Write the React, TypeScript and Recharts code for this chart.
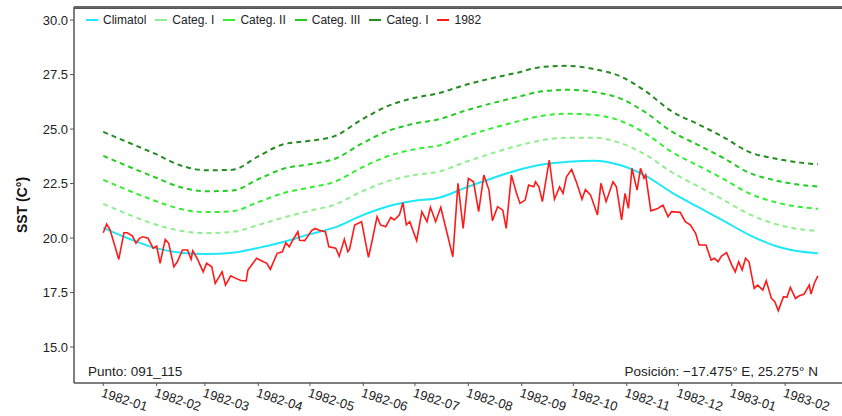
import { Line, LineChart, ReferenceLine, XAxis, YAxis } from "recharts";

if (typeof document !== "undefined") {
    document.body.style.margin = "0";
}

const FONT = "'Liberation Sans', Arial, Helvetica, sans-serif";

// month ticks, in days since 1982-01-01
const monthTicks = [0, 31, 59, 90, 120, 151, 181, 212, 243, 273, 304, 334, 365, 396];
const monthLabels = [
    "1982-01", "1982-02", "1982-03", "1982-04", "1982-05", "1982-06", "1982-07",
    "1982-08", "1982-09", "1982-10", "1982-11", "1982-12", "1983-01", "1983-02",
];
const yTicks = [15, 17.5, 20, 22.5, 25, 27.5, 30];

// climatology and category thresholds
const climDays = [0, 15, 30, 45, 60, 75, 90, 105, 120, 135, 150, 165, 180, 195, 210, 225, 240, 255, 270, 285, 300, 315, 330, 345, 360, 375, 390, 405, 415];
const climatol = [20.47, 19.97, 19.55, 19.33, 19.27, 19.33, 19.55, 19.83, 20.18, 20.5, 21.03, 21.45, 21.7, 21.85, 22.3, 22.72, 23.1, 23.37, 23.5, 23.55, 23.35, 22.85, 22.1, 21.44, 20.8, 20.15, 19.65, 19.38, 19.3];
const categI = [21.57, 21.07, 20.63, 20.33, 20.23, 20.28, 20.6, 20.95, 21.25, 21.55, 22.13, 22.6, 22.88, 23.05, 23.48, 23.87, 24.22, 24.49, 24.6, 24.6, 24.37, 23.82, 23.03, 22.39, 21.76, 21.1, 20.65, 20.4, 20.32];
const categII = [22.67, 22.17, 21.71, 21.33, 21.19, 21.23, 21.65, 22.07, 22.32, 22.6, 23.23, 23.75, 24.06, 24.25, 24.66, 25.02, 25.34, 25.61, 25.7, 25.65, 25.39, 24.79, 23.96, 23.34, 22.72, 22.05, 21.65, 21.42, 21.34];
const categIII = [23.77, 23.27, 22.79, 22.33, 22.15, 22.18, 22.7, 23.19, 23.39, 23.65, 24.33, 24.9, 25.24, 25.45, 25.84, 26.17, 26.46, 26.73, 26.8, 26.7, 26.41, 25.76, 24.89, 24.29, 23.68, 23.0, 22.65, 22.44, 22.36];
const categIV = [24.87, 24.37, 23.87, 23.33, 23.11, 23.13, 23.75, 24.31, 24.46, 24.7, 25.43, 26.05, 26.42, 26.65, 27.02, 27.32, 27.58, 27.85, 27.9, 27.75, 27.43, 26.73, 25.82, 25.24, 24.64, 23.95, 23.65, 23.46, 23.38];

// observed SST, 1982
const obsDays = [0, 2, 4, 9, 12, 14, 17, 19, 21, 23, 26, 29, 31, 33, 36, 38, 41, 43, 46, 49, 51, 52, 55, 58, 60, 63, 65, 69, 71, 74, 77, 80, 83, 84, 89, 93, 95, 97, 101, 104, 106, 108, 110, 113, 114, 117, 121, 123, 126, 129, 131, 135, 137, 140, 142, 143, 146, 150, 154, 156, 159, 161, 164, 167, 169, 172, 174, 176, 178, 182, 185, 188, 190, 193, 196, 199, 203, 206, 209, 212, 215, 218, 221, 224, 226, 229, 232, 234, 237, 240, 242, 245, 247, 250, 251, 253, 255, 259, 262, 265, 267, 269, 272, 275, 278, 280, 283, 287, 289, 292, 296, 298, 301, 303, 305, 307, 310, 312, 314, 315, 318, 322, 325, 328, 330, 335, 338, 341, 344, 346, 350, 353, 355, 357, 359, 362, 365, 367, 369, 371, 373, 375, 378, 380, 383, 385, 388, 390, 392, 395, 397, 399, 402, 404, 407, 410, 411, 413, 415];
const obs1982 = [20.24, 20.64, 20.37, 19.02, 20.24, 20.24, 20.09, 19.76, 19.99, 20.06, 19.99, 19.53, 19.63, 18.84, 19.94, 19.76, 18.68, 18.91, 19.45, 19.45, 19.02, 19.42, 18.99, 18.45, 18.84, 18.68, 17.92, 18.45, 17.84, 18.27, 18.15, 18.05, 18.03, 18.53, 19.07, 18.91, 18.84, 18.56, 19.3, 19.37, 19.78, 19.6, 19.9, 20.29, 19.9, 19.88, 20.34, 20.44, 20.34, 20.29, 19.6, 19.53, 19.17, 19.94, 19.37, 19.48, 20.6, 20.75, 19.11, 19.83, 20.98, 20.6, 20.52, 20.95, 20.83, 21.06, 21.62, 20.6, 20.75, 19.88, 21.21, 20.75, 21.41, 20.75, 21.41, 20.44, 19.14, 22.51, 20.44, 22.74, 22.58, 21.21, 22.89, 22.2, 20.79, 21.44, 21.28, 20.44, 22.89, 22.05, 21.59, 21.74, 22.43, 22.35, 22.58, 22.35, 21.67, 23.58, 21.78, 22.35, 22.05, 22.81, 23.15, 22.51, 21.78, 22.23, 21.97, 21.06, 22.51, 21.67, 22.58, 22.35, 20.83, 22.05, 21.36, 23.2, 22.2, 23.2, 22.74, 22.89, 21.25, 21.36, 21.51, 20.98, 21.21, 21.18, 20.75, 20.6, 20.22, 19.68, 19.68, 18.99, 19.07, 18.91, 19.17, 19.33, 18.76, 18.45, 18.91, 18.53, 19.07, 18.91, 17.69, 17.84, 17.61, 18.04, 17.23, 17.08, 16.67, 17.31, 17.28, 17.74, 17.23, 17.34, 17.43, 17.84, 17.43, 17.94, 18.26];

const climData = climDays.map((day, i) => ({
    day,
    clim: climatol[i],
    c1: categI[i],
    c2: categII[i],
    c3: categIII[i],
    c4: categIV[i],
}));
const obsData = obsDays.map((day, i) => ({ day, sst: obs1982[i] }));

const legendItems = [
    { label: "Climatol", color: "#1ee8f8" },
    { label: "Categ. I", color: "#90ee90" },
    { label: "Categ. II", color: "#33ee33" },
    { label: "Categ. III", color: "#22cc22" },
    { label: "Categ. I", color: "#228b22" },
    { label: "1982", color: "#ff1a1a" },
];

function MonthTick(props: any) {
    const { x, y, payload } = props;
    const idx = monthTicks.indexOf(payload.value);
    return (
        <g transform={`translate(${x},${y})`}>
            <text x={0} y={0} dy={9} transform="rotate(18)" textAnchor="start" fontSize={13} fill="#222" fontFamily={FONT}>
                {monthLabels[idx]}
            </text>
        </g>
    );
}

export default function App() {
    return (
        <div style={{ position: "relative", width: 842, height: 416, background: "#fff" }}>
            <LineChart width={842} height={416} margin={{ top: 7, right: 0, left: 0, bottom: 0 }}>
                <XAxis
                    type="number"
                    dataKey="day"
                    domain={[-17, 429]}
                    ticks={monthTicks}
                    tick={<MonthTick />}
                    tickSize={3}
                    height={33}
                    axisLine={{ stroke: "#555", strokeWidth: 1.5 }}
                    tickLine={{ stroke: "#555" }}
                    allowDataOverflow
                />
                <YAxis
                    type="number"
                    domain={[13.35, 30.6]}
                    ticks={yTicks}
                    width={74}
                    tickSize={4}
                    tickFormatter={(v: number) => v.toFixed(1)}
                    tick={{ fontSize: 13, fill: "#222", fontFamily: FONT }}
                    axisLine={{ stroke: "#555", strokeWidth: 1.5 }}
                    tickLine={{ stroke: "#555" }}
                    allowDataOverflow
                    label={{
                        value: "SST (C°)",
                        angle: -90,
                        position: "insideLeft",
                        offset: 22,
                        dy: 10,
                        style: { fontSize: 14, fontWeight: "bold", fill: "#111", fontFamily: FONT, textAnchor: "middle" },
                    }}
                />
                <ReferenceLine y={30.55} stroke="#555" strokeWidth={2} ifOverflow="visible" />
                <Line data={climData} dataKey="clim" type="monotone" stroke="#1ee8f8" strokeWidth={2} dot={false} isAnimationActive={false} />
                <Line data={climData} dataKey="c1" type="monotone" stroke="#90ee90" strokeWidth={2} strokeDasharray="5 4" dot={false} isAnimationActive={false} />
                <Line data={climData} dataKey="c2" type="monotone" stroke="#33ee33" strokeWidth={2} strokeDasharray="5 4" dot={false} isAnimationActive={false} />
                <Line data={climData} dataKey="c3" type="monotone" stroke="#22cc22" strokeWidth={2} strokeDasharray="5 4" dot={false} isAnimationActive={false} />
                <Line data={climData} dataKey="c4" type="monotone" stroke="#228b22" strokeWidth={2} strokeDasharray="5 4" dot={false} isAnimationActive={false} />
                <Line data={obsData} dataKey="sst" type="linear" stroke="#ff1a1a" strokeWidth={1.6} dot={false} isAnimationActive={false} />
            </LineChart>
            <div style={{ position: "absolute", left: 74, top: 6, width: 768, height: 0, borderTop: "2px solid #666", zIndex: 10 }} />
            <div style={{ position: "absolute", left: 86, top: 13, display: "flex", alignItems: "center", fontFamily: FONT, fontSize: 12, color: "#222" }}>
                {legendItems.map((item, i) => (
                    <div key={i} style={{ display: "flex", alignItems: "center", marginRight: 9 }}>
                        <span style={{ display: "inline-block", width: 12, height: 2, background: item.color, marginRight: 5 }} />
                        <span>{item.label}</span>
                    </div>
                ))}
            </div>
            <div style={{ position: "absolute", left: 88, top: 364, fontFamily: FONT, fontSize: 13.5, color: "#222" }}>
                Punto: 091_115
            </div>
            <div style={{ position: "absolute", right: 24, top: 364, fontFamily: FONT, fontSize: 13.5, color: "#222" }}>
                Posición: −17.475° E, 25.275° N
            </div>
        </div>
    );
}
